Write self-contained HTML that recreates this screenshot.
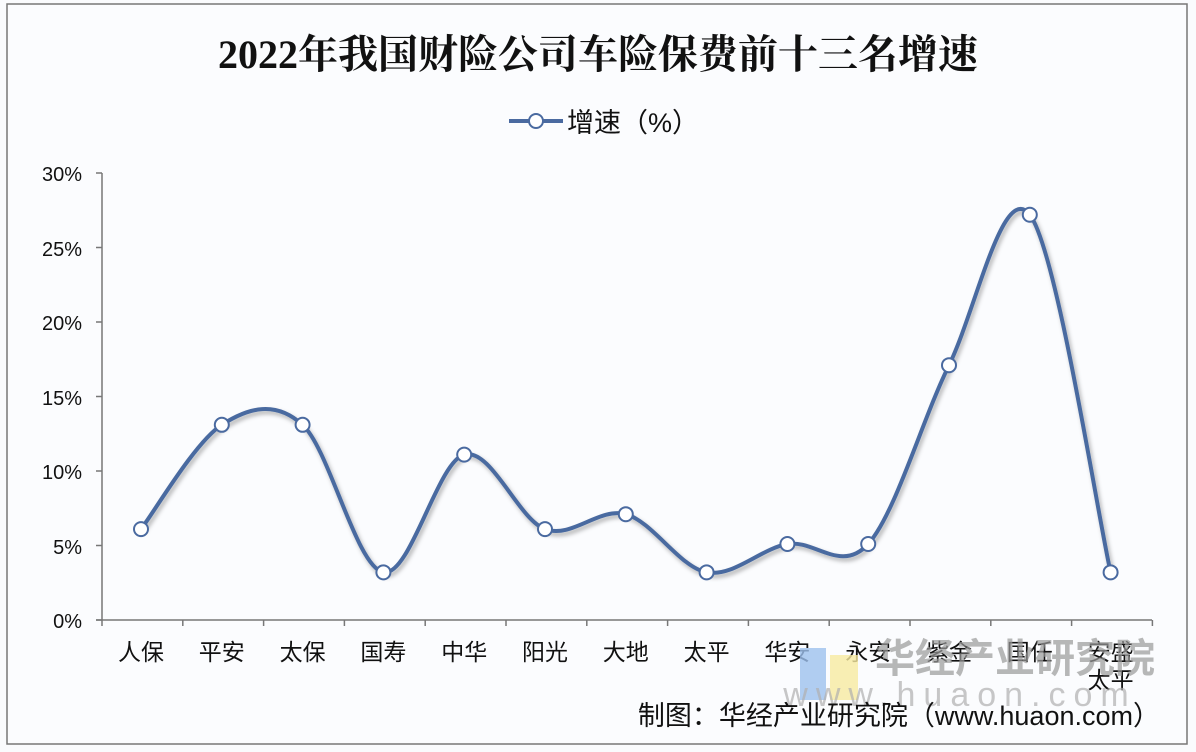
<!DOCTYPE html>
<html><head><meta charset="utf-8"><style>
body{margin:0;width:1196px;height:752px;background:#fafbfd;overflow:hidden;font-family:"Liberation Sans","Noto Sans CJK SC",sans-serif}
</style></head><body>
<svg width="1196" height="752" xmlns="http://www.w3.org/2000/svg" style="position:absolute;left:0;top:0">
<defs><filter id="sh" x="-5%" y="-5%" width="110%" height="120%"><feDropShadow dx="2" dy="3" stdDeviation="2" flood-color="#000" flood-opacity="0.3"/></filter></defs>
<rect x="7" y="4" width="1180" height="740" fill="#fbfcfe" stroke="#777" stroke-width="1.5"/>
<text x="598" y="68" text-anchor="middle" font-family="'Liberation Serif','Noto Serif CJK SC',serif" font-weight="bold" font-size="40" fill="#111">2022年我国财险公司车险保费前十三名增速</text>
<line x1="509" y1="121" x2="563" y2="121" stroke="#4a6aa0" stroke-width="4"/>
<circle cx="536" cy="121" r="7" fill="#fff" stroke="#4a6aa0" stroke-width="2"/>
<text x="567" y="132" font-size="27" fill="#111">增速（%）</text>
<g font-size="20" fill="#111" text-anchor="end">
<text x="82" y="181">30%</text><text x="82" y="256">25%</text><text x="82" y="330">20%</text><text x="82" y="405">15%</text><text x="82" y="479">10%</text><text x="82" y="554">5%</text><text x="82" y="628">0%</text>
</g>
<g stroke="#777" stroke-width="1.5" id="ax"></g>
<g font-size="23" fill="#111" text-anchor="middle" id="cats"></g>
<path id="ln" fill="none" stroke="#4a6aa0" stroke-width="4" filter="url(#sh)"/>
<g id="mk"></g>
<text x="1015" y="672" text-anchor="middle" font-size="40" fill="#9a9a9a" opacity="0.7" font-weight="bold">华经产业研究院</text>
<rect x="800" y="648" width="26" height="52" fill="#9dc0ee" opacity="0.8"/>
<rect x="830" y="655" width="28" height="45" fill="#f8eaa0" opacity="0.8"/>
<text x="960" y="706" text-anchor="middle" font-size="34" fill="#b0b0b0" opacity="0.7" letter-spacing="8">www.huaon.com</text>
<text x="1160" y="725" text-anchor="end" font-size="27" fill="#111">制图：华经产业研究院（www.huaon.com）</text>
</svg>
<script>
var ns="http://www.w3.org/2000/svg";
var v=[6.1,13.1,13.1,3.2,11.1,6.1,7.1,3.2,5.1,5.1,17.1,27.2,3.2];
var c=["人保","平安","太保","国寿","中华","阳光","大地","太平","华安","永安","紫金","国任","安盛"];
var P=v.map(function(a,i){return [141+80.8*i,620-a*14.9];});
function el(t,a,p){var e=document.createElementNS(ns,t);for(var k in a)e.setAttribute(k,a[k]);document.getElementById(p).appendChild(e);return e;}
el("line",{x1:102,y1:173,x2:102,y2:620},"ax");
el("line",{x1:96,y1:620,x2:1152,y2:620},"ax");
for(var k=0;k<=6;k++)el("line",{x1:96,y1:173+k*74.5,x2:102,y2:173+k*74.5},"ax");
for(var k=0;k<=13;k++){var x=102+k*80.8;el("line",{x1:x,y1:620,x2:x,y2:626},"ax");}
c.forEach(function(n,i){var t=el("text",{x:P[i][0],y:660},"cats");t.textContent=n;});
var t=el("text",{x:P[12][0],y:688},"cats");t.textContent="太平";
var d="M"+P[0][0]+","+P[0][1];
for(var i=0;i<P.length-1;i++){var p0=P[Math.max(i-1,0)],p1=P[i],p2=P[i+1],p3=P[Math.min(i+2,P.length-1)];
d+=" C"+(p1[0]+(p2[0]-p0[0])/6)+","+(p1[1]+(p2[1]-p0[1])/6)+" "+(p2[0]-(p3[0]-p1[0])/6)+","+(p2[1]-(p3[1]-p1[1])/6)+" "+p2[0]+","+p2[1];}
document.getElementById("ln").setAttribute("d",d);
P.forEach(function(p){el("circle",{cx:p[0],cy:p[1],r:7,fill:"#fff",stroke:"#4a6aa0","stroke-width":2},"mk");});
</script>
</body></html>
